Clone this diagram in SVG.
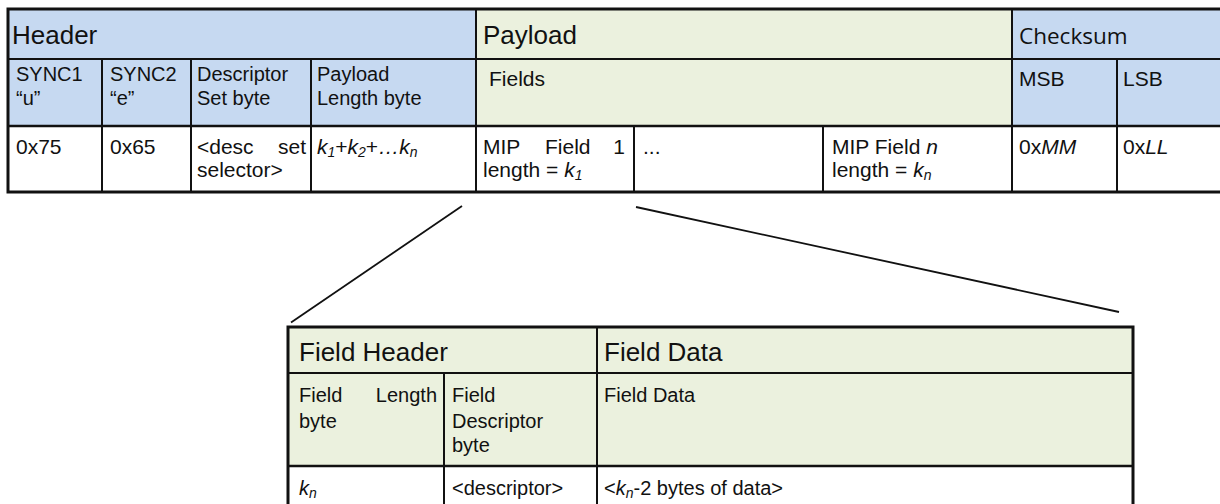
<svg xmlns="http://www.w3.org/2000/svg" width="1220" height="504" viewBox="0 0 1220 504">
<style>
.t{font-family:"Liberation Sans",Arial,sans-serif;font-size:20px;fill:#111}
.tt{font-family:"Liberation Sans",Arial,sans-serif;font-size:21px;fill:#111}
.tr{font-family:"Liberation Sans",Arial,sans-serif;font-size:20px;fill:#111}
.h{font-family:"Liberation Sans",Arial,sans-serif;font-size:26px;fill:#111}
.cs{font-family:"Open Sans","Noto Sans",sans-serif;font-size:22.5px;fill:#111}
.i{font-style:italic}
.blue{fill:#c6d9f1}
.green{fill:#ebf1de}
.white{fill:#ffffff}
.outer{fill:none;stroke:#111;stroke-width:3}
.ln{stroke:#111;stroke-width:2;fill:none}
.lnt{stroke:#111;stroke-width:2.7;fill:none}
.conn{stroke:#111;stroke-width:1.8;fill:none}
</style>
<rect x="0" y="0" width="1220" height="504" fill="#ffffff"/>

<g id="top-table">
  <rect class="blue" x="8" y="9" width="468" height="117"/>
  <rect class="green" x="476" y="9" width="536" height="117"/>
  <rect class="blue" x="1012" y="9" width="210" height="117"/>
  <rect class="white" x="8" y="126" width="1214" height="66"/>
  <line class="ln" x1="8" y1="59" x2="1222" y2="59"/>
  <line class="lnt" x1="8" y1="126" x2="1222" y2="126"/>
  <line class="ln" x1="102" y1="59" x2="102" y2="192"/>
  <line class="ln" x1="191" y1="59" x2="191" y2="192"/>
  <line class="ln" x1="311" y1="59" x2="311" y2="192"/>
  <line class="ln" x1="476" y1="9" x2="476" y2="192"/>
  <line class="ln" x1="634" y1="126" x2="634" y2="192"/>
  <line class="ln" x1="823" y1="126" x2="823" y2="192"/>
  <line class="ln" x1="1012" y1="9" x2="1012" y2="192"/>
  <line class="ln" x1="1117" y1="59" x2="1117" y2="192"/>
  <rect class="outer" x="8" y="9" width="1216" height="183"/>
</g>

<g id="top-header-row">
  <text class="h" x="12" y="44">Header</text>
  <text class="h" x="483" y="44">Payload</text>
  <text class="cs" x="1019" y="44">Checksum</text>
</g>

<g id="top-label-row">
  <text class="tr" x="16" y="81">SYNC1</text>
  <text class="tr" x="16" y="105">“u”</text>
  <text class="tr" x="110" y="81">SYNC2</text>
  <text class="tr" x="110" y="105">“e”</text>
  <text class="tr" x="197" y="81">Descriptor</text>
  <text class="tr" x="197" y="105">Set byte</text>
  <text class="tr" x="317" y="81">Payload</text>
  <text class="tr" x="317" y="105">Length byte</text>
  <text class="tt" x="489" y="86">Fields</text>
  <text class="tt" x="1019" y="86">MSB</text>
  <text class="tt" x="1123" y="86">LSB</text>
</g>

<g id="top-value-row">
  <text class="tt" x="16" y="154">0x75</text>
  <text class="tt" x="110" y="154">0x65</text>
  <text class="tt" x="197" y="154">&lt;desc</text>
  <text class="tt" x="306" y="154" text-anchor="end">set</text>
  <text class="tt" x="197" y="177">selector&gt;</text>
  <text class="tt" x="317" y="154"><tspan class="i">k</tspan><tspan class="i" font-size="14" dy="3">1</tspan><tspan dy="-3">+</tspan><tspan class="i">k</tspan><tspan class="i" font-size="14" dy="3">2</tspan><tspan dy="-3">+</tspan><tspan class="i">…k</tspan><tspan class="i" font-size="14" dy="3">n</tspan></text>
  <text class="tt" x="483" y="154">MIP</text>
  <text class="tt" x="545" y="154">Field</text>
  <text class="tt" x="625" y="154" text-anchor="end">1</text>
  <text class="tt" x="483" y="177">length = <tspan class="i">k</tspan><tspan class="i" font-size="14" dy="3">1</tspan></text>
  <text class="tt" x="643" y="154">...</text>
  <text class="tt" x="832" y="154">MIP Field <tspan class="i">n</tspan></text>
  <text class="tt" x="832" y="177">length = <tspan class="i">k</tspan><tspan class="i" font-size="14" dy="3">n</tspan></text>
  <text class="tt" x="1019" y="154">0x<tspan class="i">MM</tspan></text>
  <text class="tt" x="1123" y="154">0x<tspan class="i">LL</tspan></text>
</g>

<g id="connectors">
  <line class="conn" x1="462" y1="206" x2="291" y2="322.5"/>
  <line class="conn" x1="636" y1="207" x2="1119" y2="312"/>
</g>

<g id="bottom-table">
  <rect class="green" x="288" y="327" width="845" height="139"/>
  <rect class="white" x="288" y="466" width="845" height="60"/>
  <line class="ln" x1="288" y1="373" x2="1133" y2="373"/>
  <line class="lnt" x1="288" y1="466" x2="1133" y2="466"/>
  <line class="ln" x1="444" y1="373" x2="444" y2="526"/>
  <line class="ln" x1="597" y1="327" x2="597" y2="526"/>
  <rect class="outer" x="288" y="327" width="845" height="199"/>
</g>

<g id="bottom-header-row">
  <text class="h" x="299" y="361">Field Header</text>
  <text class="h" x="604" y="361">Field Data</text>
</g>

<g id="bottom-label-row">
  <text class="t" x="299" y="402">Field</text>
  <text class="t" x="437" y="402" text-anchor="end">Length</text>
  <text class="t" x="299" y="428">byte</text>
  <text class="t" x="452" y="402">Field</text>
  <text class="t" x="452" y="428">Descriptor</text>
  <text class="t" x="452" y="452">byte</text>
  <text class="t" x="604" y="402">Field Data</text>
</g>

<g id="bottom-value-row">
  <text class="t" x="299" y="495"><tspan class="i">k</tspan><tspan class="i" font-size="14" dy="3">n</tspan></text>
  <text class="t" x="452" y="495">&lt;descriptor&gt;</text>
  <text class="t" x="604" y="495">&lt;<tspan class="i">k</tspan><tspan class="i" font-size="14" dy="3">n</tspan><tspan dy="-3">-2  bytes of data&gt;</tspan></text>
</g>
</svg>
